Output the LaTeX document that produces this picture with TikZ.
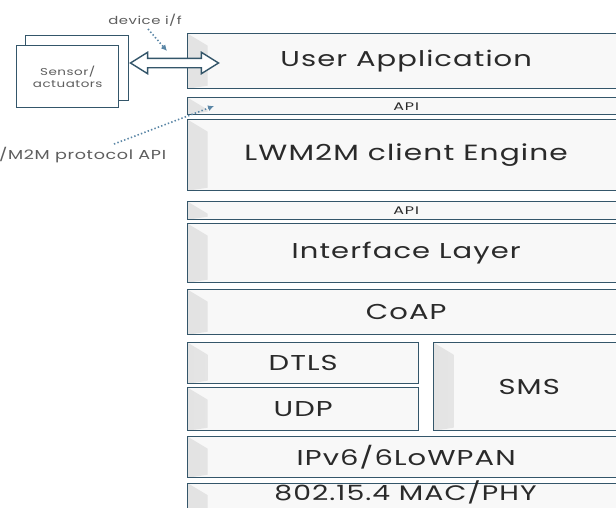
\documentclass[tikz,border=0pt]{standalone}
\usepackage{fontspec}
\setmainfont{Poppins}
\newfontfamily\wide[FakeStretch=1.35,LetterSpace=5]{Poppins}
\newfontfamily\wider[FakeStretch=1.45,LetterSpace=9]{Poppins}
\usetikzlibrary{shapes.arrows,arrows.meta}
\definecolor{edge}{HTML}{34566A}
\definecolor{txt}{HTML}{2A2A2A}
\definecolor{note}{HTML}{5E5E5E}
\definecolor{dots}{HTML}{5A86A6}
\definecolor{boxfill}{HTML}{F8F8F8}
\tikzset{
  layer/.style={draw=edge, line width=1.4pt, fill=boxfill, anchor=north west,
    inner sep=0pt, text=txt, font=\wide\fontsize{21.5}{24}\selectfont,
    path picture={\shade[left color=gray!22, right color=boxfill]
      (path picture bounding box.north west) -- ++(20pt,-12pt)
      -- ([xshift=20pt,yshift=3pt]path picture bounding box.south west)
      -- (path picture bounding box.south west) -- cycle;}},
  apibox/.style={layer, font=\wider\fontsize{11}{12}\selectfont},
  sensorbox/.style={draw=edge, line width=1.4pt, fill=white, anchor=north west, inner sep=0pt},
  dotarrow/.style={dots, line width=1.6pt, dash pattern=on 1.4pt off 2.2pt, -{Latex[length=6pt,width=6pt]}},
}
\begin{document}
\begin{tikzpicture}[x=1pt,y=-1pt]
\useasboundingbox (0,0) rectangle (616,507);
\fill[white] (0,0) rectangle (616,507);
\clip (0,0) rectangle (616,507);
% layers
\node[layer, minimum width=437pt, minimum height=55pt] (user) at (187,33) {User Application};
\node[apibox, minimum width=437pt, minimum height=17pt] (api1) at (187,97) {API};
\node[layer, minimum width=437pt, minimum height=71pt, font=\wide\fontsize{22}{24}\selectfont] (lwm) at (187,119) {LWM2M client Engine};
\node[apibox, minimum width=437pt, minimum height=18pt] (api2) at (187,201) {API};
\node[layer, minimum width=437pt, minimum height=59pt] (iface) at (187,223) {Interface Layer};
\node[layer, minimum width=437pt, minimum height=45pt] (coap) at (187,289) {CoAP};
\node[layer, minimum width=231pt, minimum height=41pt] (dtls) at (187,342) {DTLS};
\node[layer, minimum width=231pt, minimum height=43pt] (udp) at (187,387) {UDP};
\node[layer, minimum width=191pt, minimum height=88pt] (sms) at (433,342) {SMS};
\node[layer, minimum width=437pt, minimum height=41pt] (ipv6) at (187,436) {IPv6/6LoWPAN};
\node[layer, minimum width=437pt, minimum height=32pt] (macbox) at (187,482.5) {};
\node[text=txt, inner sep=0pt, text height=14pt, text depth=0pt,
  font=\wide\fontsize{21}{24}\selectfont] (mac) at (405.5,493.5) {802.15.4 MAC/PHY};
% sensor boxes
\node[sensorbox, minimum width=103pt, minimum height=65pt] (sensorback) at (25,35) {};
\node[sensorbox, minimum width=102pt, minimum height=62pt, text=note, align=center,
  font=\wide\fontsize{10}{12}\selectfont] (sensor) at (16,45) {Sensor/\\actuators};
% double arrow
\node[double arrow, draw=edge, line width=1.4pt, fill=white, inner xsep=0pt, inner ysep=4pt,
  text height=0pt, text depth=0pt, minimum height=88pt, double arrow head extend=6pt,
  double arrow tip angle=64] (devarrow) at (174.5,63) {};
% annotations
\node[text=note, font=\wide\fontsize{11}{12}\selectfont] (devif) at (145,20) {device i/f};
\node[text=note, font=\wide\fontsize{13}{14}\selectfont, anchor=west, inner sep=0pt] (protoapi) at (-1,155) {/M2M protocol API};
\coordinate (d1s) at (148,29);
\coordinate (d1e) at (167,51);
\draw[dotarrow] (d1s) -- (d1e);
\coordinate (d2s) at (114,144);
\coordinate (d2e) at (214,106);
\draw[dotarrow] (d2s) -- (d2e);
\end{tikzpicture}
\end{document}
